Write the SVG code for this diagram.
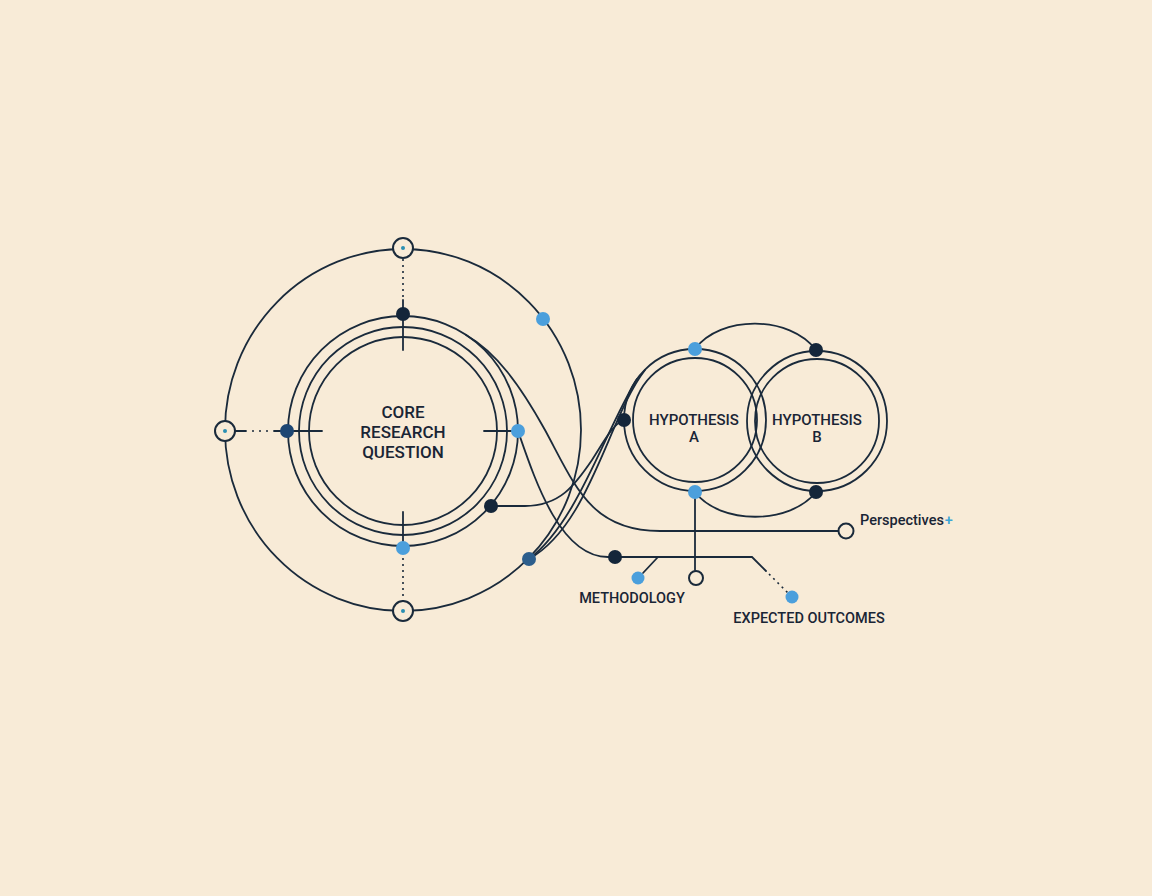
<svg xmlns="http://www.w3.org/2000/svg" width="1152" height="896" viewBox="0 0 1152 896">
<style>
.ln{fill:none;stroke:#1a2a3b;stroke-width:1.8;stroke-linecap:round}
.dot{fill:none;stroke:#1a2a3b;stroke-width:1.6;stroke-dasharray:2 4}
.hollow{fill:#f8ebd7;stroke:#1a2a3b;stroke-width:2}
.dk{fill:#14263a}
.bl{fill:#4b9fdc}
.md{fill:#2d5e8c}
.nv{fill:#1d4673}
.tl{fill:#2a8fb3}
.t{font-family:Roboto,"Liberation Sans",sans-serif;font-weight:500;fill:#1a2535;text-anchor:middle}
</style>
<rect width="1152" height="896" fill="#f8ebd7"/>
<g id="connectors">
<ellipse class="ln" cx="403" cy="430" rx="178" ry="181"/>
<line class="dot" x1="403" y1="259" x2="403" y2="300"/>
<line class="ln" x1="403" y1="300" x2="403" y2="350"/>
<line class="ln" x1="235" y1="431" x2="246" y2="431"/>
<line class="dot" x1="252" y1="431" x2="270" y2="431" style="stroke-dasharray:2 5"/>
<line class="ln" x1="274" y1="431" x2="322" y2="431"/>
<line class="ln" x1="484" y1="431" x2="518" y2="431"/>
<line class="ln" x1="403" y1="512" x2="403" y2="548"/>
<line class="dot" x1="403" y1="552" x2="403" y2="601"/>
<path class="ln" d="M466 335 C496 352 520 385 545 430 C575 485 590 531 660 531 L838 531"/>
<path class="ln" d="M518 431 C535 480 560 557 608 557 L752 557 L766 571"/>
<line class="dot" x1="769" y1="574" x2="788" y2="593"/>
<line class="ln" x1="658" y1="557" x2="643" y2="573"/>
<line class="ln" x1="695" y1="492" x2="695" y2="570"/>
<path class="ln" d="M491 506 L525 506 C560 506 575 485 592 460 C605 440 612 425 624 420"/>
<path class="ln" d="M529 559 C578 522 605 430 637 379"/>
<path class="ln" d="M529 559 C590 525 608 418 645 370"/>
<path class="ln" d="M695 349 C720 315 790 315 816 350"/>
<path class="ln" d="M695 492 C720 525 790 525 816 492"/>
</g>
<g id="core">
<circle class="ln" cx="403" cy="431" r="115"/>
<circle class="ln" cx="403" cy="431" r="104"/>
<circle class="ln" cx="403" cy="431" r="94"/>
<text class="t" x="403" y="418" font-size="17">CORE</text>
<text class="t" x="403" y="438" font-size="17">RESEARCH</text>
<text class="t" x="403" y="458" font-size="17">QUESTION</text>
</g>
<g id="hypothesis-a">
<circle class="ln" cx="695" cy="420" r="71"/>
<circle class="ln" cx="695" cy="420" r="62"/>
<text class="t" x="694" y="425" font-size="15">HYPOTHESIS</text>
<text class="t" x="694" y="442" font-size="15">A</text>
</g>
<g id="hypothesis-b">
<circle class="ln" cx="817" cy="421" r="70"/>
<circle class="ln" cx="817" cy="421" r="62"/>
<text class="t" x="817" y="425" font-size="15">HYPOTHESIS</text>
<text class="t" x="817" y="442" font-size="15">B</text>
</g>
<g id="orbit-nodes">
<circle class="hollow" cx="403" cy="248" r="10"/><circle class="tl" cx="403" cy="248" r="2"/>
<circle class="hollow" cx="225" cy="431" r="10"/><circle class="tl" cx="225" cy="431" r="2"/>
<circle class="hollow" cx="403" cy="611" r="10"/><circle class="tl" cx="403" cy="611" r="2"/>
<circle class="dk" cx="403" cy="314" r="7"/>
<circle class="nv" cx="287" cy="431" r="7"/>
<circle class="bl" cx="518" cy="431" r="7"/>
<circle class="bl" cx="403" cy="548" r="7"/>
<circle class="dk" cx="491" cy="506" r="7"/>
<circle class="bl" cx="543" cy="319" r="7"/>
<circle class="md" cx="529" cy="559" r="7"/>
</g>
<g id="hypothesis-nodes">
<circle class="dk" cx="624" cy="420" r="7"/>
<circle class="bl" cx="695" cy="349" r="7"/>
<circle class="bl" cx="695" cy="492" r="7"/>
<circle class="dk" cx="816" cy="350" r="7"/>
<circle class="dk" cx="816" cy="492" r="7"/>
</g>
<g id="perspectives">
<circle class="hollow" cx="846" cy="531" r="7.5"/>
<text x="860" y="525" font-family="Roboto,'Liberation Sans',sans-serif" font-weight="500" font-size="14.5" fill="#1a2535">Perspectives<tspan fill="#3ba6d6" dx="1">+</tspan></text>
</g>
<g id="methodology">
<circle class="dk" cx="615" cy="557" r="7"/>
<circle class="bl" cx="638" cy="578" r="6.5"/>
<text class="t" x="632" y="603" font-size="14.5">METHODOLOGY</text>
</g>
<g id="center-node">
<circle class="hollow" cx="696" cy="578" r="7"/>
</g>
<g id="expected-outcomes">
<circle class="bl" cx="792" cy="597" r="6.5"/>
<text class="t" x="809" y="623" font-size="14.5">EXPECTED OUTCOMES</text>
</g>
</svg>
